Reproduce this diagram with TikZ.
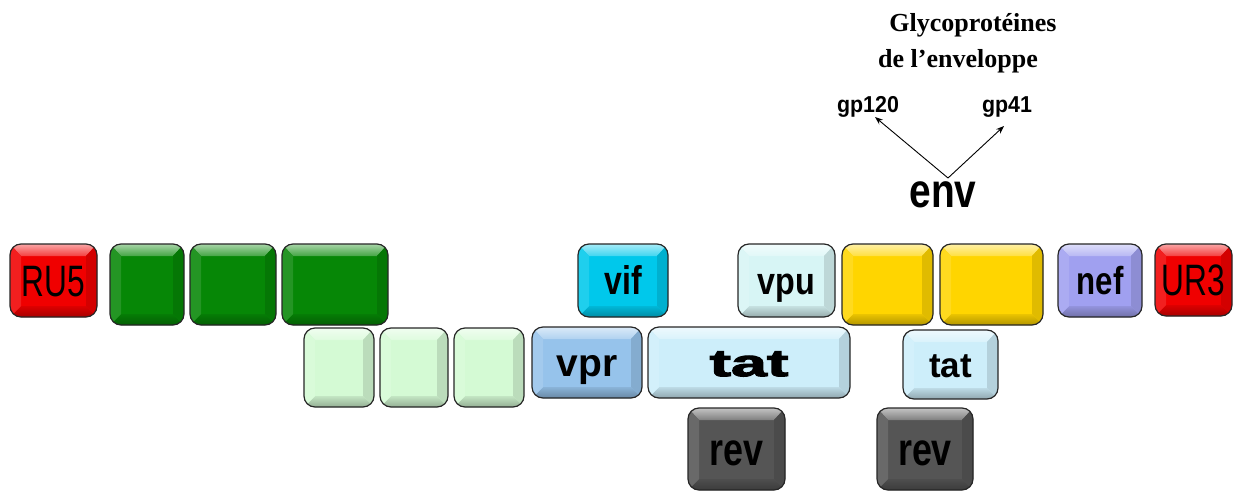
\documentclass[tikz,border=0pt]{standalone}
\usepackage{fontspec}
\usepackage{graphicx}
\usetikzlibrary{arrows.meta}
\newfontfamily\lsans{Liberation Sans}
\newfontfamily\lserif{Liberation Serif}
\newfontfamily\heavysans[FakeBold=2.5]{Liberation Sans Bold}
\definecolor{cRed}{RGB}{240,0,0}
\definecolor{cDG}{RGB}{6,135,6}
\definecolor{cLG}{RGB}{212,250,212}
\definecolor{cVif}{RGB}{0,200,235}
\definecolor{cVpu}{RGB}{215,245,245}
\definecolor{cVpr}{RGB}{150,195,235}
\definecolor{cTat}{RGB}{205,238,250}
\definecolor{cY}{RGB}{255,213,0}
\definecolor{cNef}{RGB}{160,160,240}
\definecolor{cRev}{RGB}{85,85,85}
\newcommand\lbl[2]{\raisebox{0pt}[0.72em][0pt]{\scalebox{#1}[1]{#2}}}
\tikzset{
  gene/.style={draw=black!85, line width=1.2pt, rounded corners=11pt, fill=#1, inner sep=0pt,
    path picture={
      \coordinate (NW) at (path picture bounding box.north west);
      \coordinate (NE) at (path picture bounding box.north east);
      \coordinate (SW) at (path picture bounding box.south west);
      \coordinate (SE) at (path picture bounding box.south east);
      \shade[sharp corners, top color=#1!35!white, bottom color=#1!75!white] (NW) -- (NE) -- ([xshift=-11pt,yshift=-12pt]NE) -- ([xshift=11pt,yshift=-12pt]NW) -- cycle;
      \shade[sharp corners, top color=#1!92!black, bottom color=#1!70!black] (SW) -- (SE) -- ([xshift=-11pt,yshift=11pt]SE) -- ([xshift=11pt,yshift=11pt]SW) -- cycle;
      \fill[sharp corners, #1!88!white] (NW) -- (SW) -- ([xshift=11pt,yshift=11pt]SW) -- ([xshift=11pt,yshift=-12pt]NW) -- cycle;
      \fill[sharp corners, #1!88!black] (NE) -- (SE) -- ([xshift=-11pt,yshift=11pt]SE) -- ([xshift=-11pt,yshift=-12pt]NE) -- cycle;
    }},
  lab/.style={inner sep=0pt, font={\lsans\fontsize{#1}{#1}\selectfont\bfseries}},
  arr/.style={-{Stealth[length=8pt,width=6pt]}, line width=0.9pt},
  head/.style={inner sep=0pt, font={\lserif\fontsize{26pt}{26pt}\selectfont\bfseries}}
}
\begin{document}
\begin{tikzpicture}[x=1pt,y=-1pt]
\useasboundingbox (0,0) rectangle (1236,492);
% row 1
\node[gene=cRed, minimum width=87pt, minimum height=73pt, font={\lsans\fontsize{44pt}{44pt}\selectfont}] (ru5) at (53.5,280.5) {\lbl{0.72}{RU5}};
\node[gene=cDG, minimum width=74pt, minimum height=81pt] (g1) at (147,284.5) {};
\node[gene=cDG, minimum width=86pt, minimum height=81pt] (g2) at (233,284.5) {};
\node[gene=cDG, minimum width=106pt, minimum height=81pt] (g3) at (335,284.5) {};
\node[gene=cVif, minimum width=90pt, minimum height=73pt, font={\lsans\fontsize{40pt}{40pt}\selectfont\bfseries}] (vif) at (623,280.5) {\lbl{0.8}{vif}};
\node[gene=cVpu, minimum width=97pt, minimum height=73pt, font={\lsans\fontsize{38pt}{38pt}\selectfont\bfseries}] (vpu) at (786.5,280.5) {\lbl{0.85}{vpu}};
\node[gene=cY, minimum width=91pt, minimum height=81pt] (y1) at (887.5,284.5) {};
\node[gene=cY, minimum width=103pt, minimum height=81pt] (y2) at (991.5,284.5) {};
\node[gene=cNef, minimum width=84pt, minimum height=73pt, font={\lsans\fontsize{39pt}{39pt}\selectfont\bfseries}] (nef) at (1100,280.5) {\lbl{0.8}{nef}};
\node[gene=cRed, minimum width=77pt, minimum height=72pt, font={\lsans\fontsize{44pt}{44pt}\selectfont}] (ur3) at (1193.5,280) {\lbl{0.72}{UR3}};
% row 2
\node[gene=cLG, minimum width=70pt, minimum height=79pt] (lg1) at (339,367.5) {};
\node[gene=cLG, minimum width=68pt, minimum height=79pt] (lg2) at (414,367.5) {};
\node[gene=cLG, minimum width=70pt, minimum height=79pt] (lg3) at (489,367.5) {};
\node[gene=cVpr, minimum width=110pt, minimum height=71pt, font={\lsans\fontsize{39pt}{39pt}\selectfont\bfseries}] (vpr) at (587,362.5) {\lbl{1}{vpr}};
\node[gene=cTat, minimum width=202pt, minimum height=71pt, font={\heavysans\fontsize{38pt}{38pt}\selectfont}] (tat1) at (749,362.5) {\lbl{1.7}{tat}};
\node[gene=cTat, minimum width=95pt, minimum height=69pt, font={\lsans\fontsize{35pt}{35pt}\selectfont\bfseries}] (tat2) at (950.5,364.5) {\lbl{1}{tat}};
% row 3
\node[gene=cRev, minimum width=97pt, minimum height=82pt, font={\lsans\fontsize{46pt}{46pt}\selectfont\bfseries}] (rev1) at (736.5,449) {\lbl{0.78}{rev}};
\node[gene=cRev, minimum width=96pt, minimum height=82pt, font={\lsans\fontsize{46pt}{46pt}\selectfont\bfseries}] (rev2) at (925,449) {\lbl{0.78}{rev}};
% env
\node[lab=48pt, anchor=base] (env) at (943,207) {\scalebox{0.81}[1]{env}};
\node[lab=23pt, anchor=base] (gp120) at (868,113) {\scalebox{0.93}[1]{gp120}};
\node[lab=23pt, anchor=base] (gp41) at (1007,113) {\scalebox{0.93}[1]{gp41}};
\coordinate (fork) at (948,178);
\coordinate (e120) at (875,117);
\coordinate (e41) at (1004,126);
\draw[arr] (fork) -- (e120);
\draw[arr] (fork) -- (e41);
\node[head, anchor=base] (t1) at (973,32) {Glycoprotéines};
\node[head, anchor=base] (t2) at (958,68) {de l’enveloppe};
\end{tikzpicture}
\end{document}
